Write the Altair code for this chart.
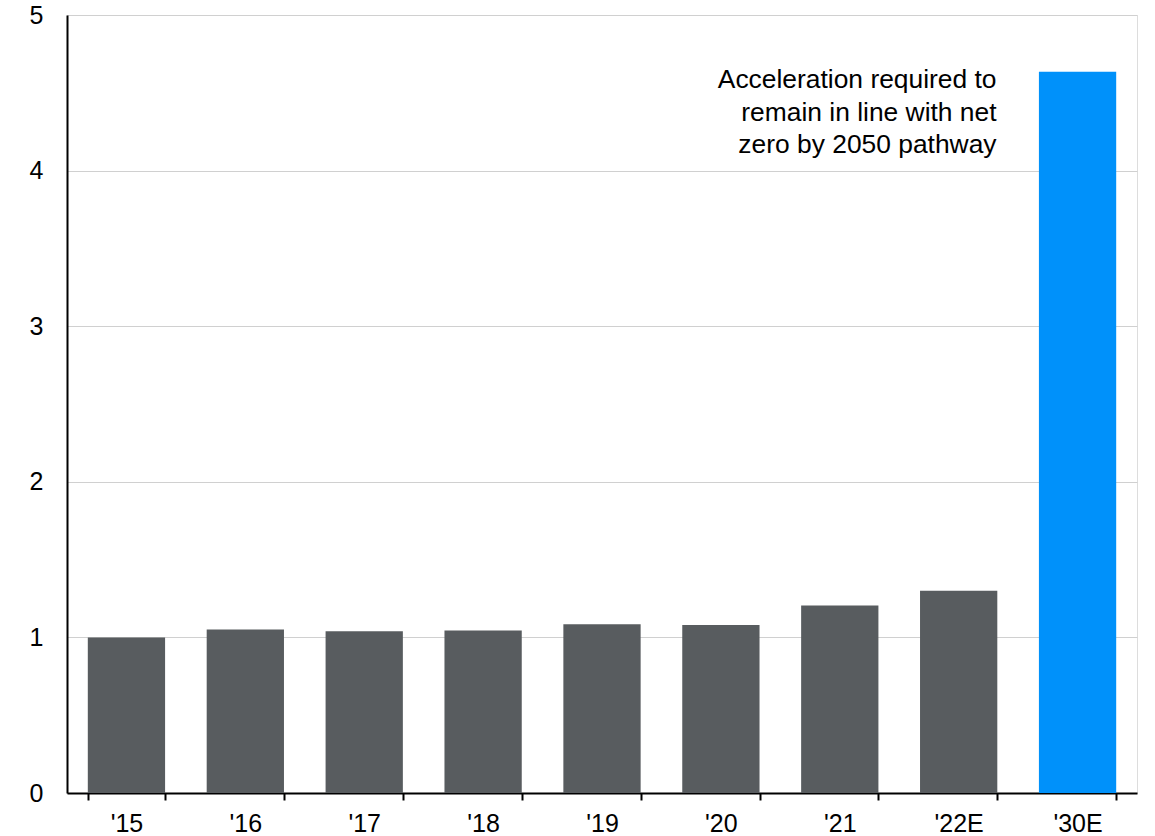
import altair as alt
import pandas as pd

categories = ["'15", "'16", "'17", "'18", "'19", "'20", "'21", "'22E", "'30E"]
values = [1.0, 1.05, 1.04, 1.045, 1.085, 1.08, 1.205, 1.3, 4.635]
kinds = ["actual"] * 8 + ["required"]

df = pd.DataFrame({"cat": categories, "value": values, "kind": kinds})

ann = pd.DataFrame({
    "cat": ["'30E"],
    "value": [4.58],
    "text": [["Acceleration required to", "remain in line with net", "zero by 2050 pathway"]],
})

FONT = "Liberation Sans"

xenc = alt.X(
    "cat:N", sort=categories, title=None,
    scale=alt.Scale(paddingInner=0.35, paddingOuter=0.175),
    axis=alt.Axis(
        labelAngle=0, labelFontSize=25, labelFont=FONT, labelColor="#000000",
        domainColor="#000000", domainWidth=2, tickColor="#000000", tickWidth=2,
        tickSize=7, tickBand="extent", labelPadding=11, grid=False,
    ),
)

bars = alt.Chart(df).mark_bar().encode(
    x=xenc,
    y=alt.Y(
        "value:Q", title=None,
        scale=alt.Scale(domain=[0, 5], nice=False),
        axis=alt.Axis(
            values=[0, 1, 2, 3, 4, 5], format="d", labelFontSize=25, labelFont=FONT,
            labelColor="#000000", domainColor="#000000", domainWidth=2,
            ticks=False, labelPadding=24, gridColor="#d0d0d0", gridWidth=1,
        ),
    ),
    color=alt.Color(
        "kind:N",
        scale=alt.Scale(domain=["actual", "required"], range=["#585c5f", "#0091fa"]),
        legend=None,
    ),
)

text = alt.Chart(ann).mark_text(
    align="right", baseline="middle", font=FONT, fontSize=26.4,
    lineHeight=32.5, dx=-81, color="#000000",
).encode(
    x=alt.X("cat:N", sort=categories),
    y=alt.Y("value:Q"),
    text="text",
)

chart = alt.layer(bars, text).properties(
    width=1070, height=778,
    autosize=alt.AutoSizeParams(type="none"),
    padding={"left": 67, "top": 15, "right": 18, "bottom": 43},
).configure_view(stroke=None).configure(background="#ffffff")

chart.save("out.html", embed_options={"renderer": "svg", "actions": False})
